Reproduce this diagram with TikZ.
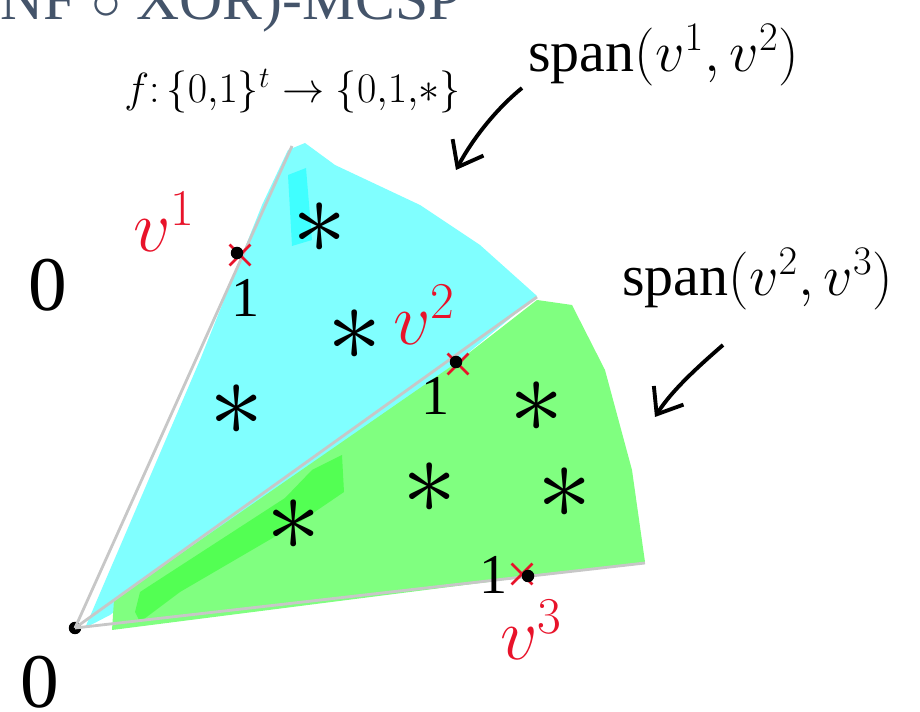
\RequirePackage{fix-cm}
\documentclass[tikz,border=0pt]{standalone}
\usepackage{fontspec}
\setmainfont{Liberation Serif}
\usepackage{amsmath, amssymb}
\usetikzlibrary{positioning}
\usetikzlibrary{shapes.misc, arrows.meta}

\definecolor{titleblue}{HTML}{44546A}
\definecolor{skyfill}{HTML}{80FFFF}
\definecolor{skydeep}{HTML}{40FFFF}
\definecolor{grassfill}{HTML}{80FF80}
\definecolor{grassdeep}{HTML}{40FF40}
\definecolor{inkred}{HTML}{E8132A}

\begin{document}
\begin{tikzpicture}[
  x=0.02cm, y=-0.02cm,
  pt/.style={circle, fill=black, inner sep=0pt, minimum size=0.25cm},
  redx/.style={cross out, draw=inkred, line width=1.6pt, minimum size=0.36cm, inner sep=0pt},
  starsym/.style={font=\fontsize{62}{62}\selectfont, inner sep=0pt},
  vlabel/.style={anchor=base west, text=inkred, font=\fontsize{42}{42}\selectfont, inner sep=0pt},
  onesym/.style={font=\fontsize{32}{32}\selectfont, inner sep=0pt},
  zerosym/.style={font=\fontsize{44}{44}\selectfont, inner sep=0pt},
  spanlbl/.style={anchor=base west, font=\fontsize{33}{33}\selectfont, inner sep=0pt},
  ray/.style={draw=black!22, line width=1.6pt},
  arrow/.style={-{Straight Barb[length=0.45cm, width=0.7cm]}, line width=2.2pt}
]
  \useasboundingbox (0,0) rectangle (920,712);
  \clip (0,0) rectangle (920,712);

  % headings
  \node[anchor=base east, text=titleblue, font=\fontsize{34}{34}\selectfont, inner sep=0pt] (title) at (462,20) {(DNF $\circ$ XOR)-MCSP};
  \node[anchor=base west, font=\fontsize{24}{24}\selectfont, inner sep=0pt] (fmap) at (124,103) {$f{:}\,\{0{,}1\}^t \rightarrow \{0{,}1{,}\ast\}$};

  % shaded cones
  \fill[skyfill] (85,628) -- (200,360) -- (262,205) -- (288,150) -- (305,143) -- (335,165) -- (420,205) -- (480,245) -- (537,296) -- (456,363) -- (110,615) -- cycle;
  \fill[skydeep] (288,175) -- (306,168) -- (312,240) -- (292,246) -- cycle;
  \fill[grassfill] (112,630) -- (114,600) -- (456,363) -- (537,300) -- (572,305) -- (605,370) -- (632,470) -- (645,562) -- cycle;
  \fill[grassdeep, opacity=0.7] (135,612) -- (140,592) -- (285,498) -- (312,470) -- (342,455) -- (344,492) -- (300,522) -- (180,592) -- (140,622) -- cycle;

  % rays from the origin
  \coordinate (r1) at (292,146);
  \coordinate (r2) at (537,297);
  \coordinate (r3) at (645,563);
  \node[pt] (o) at (75,628) {};
  \draw[ray] (o.center) -- (r1);
  \draw[ray] (o.center) -- (r2);
  \draw[ray] (o.center) -- (r3);

  % points on the rays
  \node[redx] (x1) at (240,255) {};
  \node[redx] (x2) at (458,364) {};
  \node[redx] (x3) at (522,574) {};
  \node[pt] (v1) at (237,253) {};
  \node[pt] (v2) at (456,362) {};
  \node[pt] (v3) at (528,576) {};

  \node[vlabel] (lv1) at (133,252) {$v^1$};
  \node[vlabel] (lv2) at (393,345) {$v^2$};
  \node[vlabel] (lv3) at (500,660) {$v^3$};

  \node[onesym] (one1) at (246,298) {1};
  \node[onesym] (one2) at (436,396) {1};
  \node[onesym] (one3) at (494,575) {1};

  % stars
  \node[starsym] (s1) at (320,228) {$\ast$};
  \node[starsym] (s2) at (355,335) {$\ast$};
  \node[starsym] (s3) at (237,410) {$\ast$};
  \node[starsym] (s4) at (294,525) {$\ast$};
  \node[starsym] (s5) at (430,488) {$\ast$};
  \node[starsym] (s6) at (537,407) {$\ast$};
  \node[starsym] (s7) at (565,493) {$\ast$};

  % zeros
  \node[zerosym] (z1) at (48,285) {0};
  \node[zerosym] (z2) at (40,682) {0};

  % spans
  \node[spanlbl] (span12) at (528,72) {$\mathrm{span}(v^1, v^2)$};
  \node[spanlbl] (span23) at (622,296) {$\mathrm{span}(v^2, v^3)$};

  \coordinate (a1s) at (522,88);
  \coordinate (a1e) at (456,170);
  \coordinate (a2s) at (723,345);
  \coordinate (a2e) at (655,417);
  \draw[arrow] (a1s) .. controls (495,110) and (472,140) .. (a1e);
  \draw[arrow] (a2s) .. controls (700,365) and (672,390) .. (a2e);
\end{tikzpicture}
\end{document}
